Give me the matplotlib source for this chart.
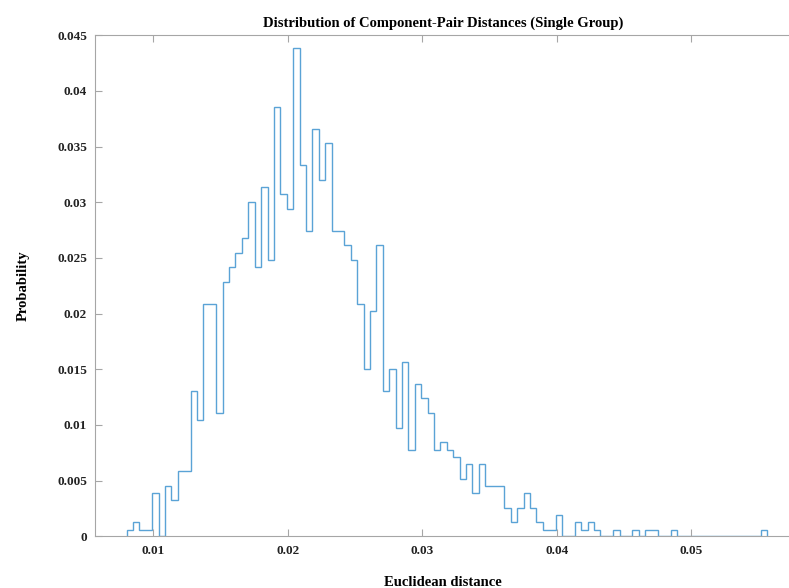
import numpy as np
import matplotlib
matplotlib.use("Agg")
import matplotlib.pyplot as plt

# гистограмма расстояний, 100 бинов
bin_start = 0.00802
bin_end = 0.05561
n_bins = 100

probs = [
    0.0006, 0.00125, 0.0006, 0.0006, 0.00386, 0.0, 0.00452, 0.00326, 0.00587, 0.00587,
    0.01305, 0.01042, 0.02087, 0.02087, 0.01105, 0.02281, 0.02416, 0.02548, 0.02677, 0.03006,
    0.02416, 0.03135, 0.02479, 0.03856, 0.03075, 0.0294, 0.04383, 0.03332, 0.02742, 0.03661,
    0.032, 0.0353, 0.02742, 0.02742, 0.02614, 0.02482, 0.02089, 0.015, 0.02024, 0.02614,
    0.01302, 0.015, 0.00976, 0.01563, 0.00778, 0.01365, 0.0124, 0.01105, 0.00778, 0.00844,
    0.00778, 0.00712, 0.00515, 0.00647, 0.00386, 0.00647, 0.00452, 0.00452, 0.00452, 0.00257,
    0.00126, 0.00257, 0.00386, 0.00257, 0.00126, 0.0006, 0.0006, 0.00191, 0.0, 0.0,
    0.00126, 0.0006, 0.00126, 0.0006, 0.0, 0.0, 0.0006, 0.0, 0.0, 0.0006,
    0.0, 0.0006, 0.0006, 0.0, 0.0, 0.0006, 0.0, 0.0, 0.0, 0.0,
    0.0, 0.0, 0.0, 0.0, 0.0, 0.0, 0.0, 0.0, 0.0, 0.0006,
]

x_ticks = [0.01, 0.02, 0.03, 0.04, 0.05]
x_labels = ["0.01", "0.02", "0.03", "0.04", "0.05"]
y_ticks = [0, 0.005, 0.01, 0.015, 0.02, 0.025, 0.03, 0.035, 0.04, 0.045]
y_labels = ["0", "0.005", "0.01", "0.015", "0.02", "0.025", "0.03", "0.035", "0.04", "0.045"]

edges = np.linspace(bin_start, bin_end, n_bins + 1)

plt.rcParams['font.family'] = ['Liberation Serif', 'DejaVu Serif']
plt.rcParams['font.weight'] = 'bold'

W, H = 789, 588
fig = plt.figure(figsize=(W / 100, H / 100), dpi=100)
# оси в пикселях: слева 95, снизу 52, правый край уходит за кадр
ax = fig.add_axes([95.3 / W, 51.7 / H, (791 - 95.3) / W, 501 / H])

ax.stairs(probs, edges, baseline=0, fill=False, color='#5aa3d6', linewidth=1.0)

ax.set_xlim(0.00569, 0.0574)
ax.set_ylim(0, 0.045)
ax.set_xticks(x_ticks)
ax.set_xticklabels(x_labels)
ax.set_yticks(y_ticks)
ax.set_yticklabels(y_labels)

grey = '#a6a6a6'
for s in ax.spines.values():
    s.set_color(grey)
    s.set_linewidth(0.8)
ax.tick_params(direction='in', length=5, width=0.8, color=grey,
               top=True, right=False, labelsize=9.5, labelcolor='#222222', pad=6)

ax.set_title('Distribution of Component-Pair Distances (Single Group)',
             fontsize=10.5, fontweight='bold', pad=6)
ax.set_xlabel('Euclidean distance', fontsize=10.5, fontweight='bold', labelpad=14)
ax.set_ylabel('Probability', fontsize=10.5, fontweight='bold', labelpad=20)

fig.savefig('out.png', dpi=100)
